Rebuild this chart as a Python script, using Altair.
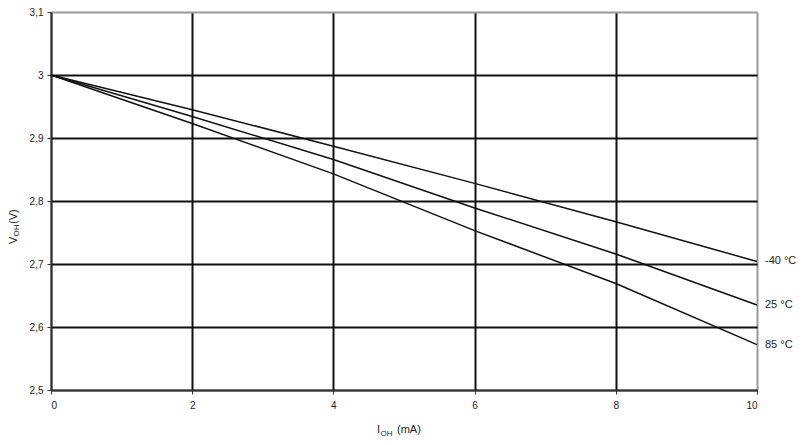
import altair as alt
import pandas as pd

# Data
i_oh = [0, 2, 4, 6, 8, 10]
v_m40 = [3.0, 2.945, 2.887, 2.828, 2.767, 2.704]
v_25 = [3.0, 2.934, 2.866, 2.789, 2.716, 2.635]
v_85 = [3.0, 2.923, 2.843, 2.753, 2.669, 2.572]
series_names = ["-40 °C", "25 °C", "85 °C"]
series_vals = [v_m40, v_25, v_85]

x_ticks = [0, 2, 4, 6, 8, 10]
y_ticks = [2.5, 2.6, 2.7, 2.8, 2.9, 3.0, 3.1]

rows = []
for name, vals in zip(series_names, series_vals):
    for x, y in zip(i_oh, vals):
        rows.append({"I": x, "V": y, "s": name})
df = pd.DataFrame(rows)
ends = df[df["I"] == 10]

FONT = "Liberation Sans"
W, H = 706, 378

xscale = alt.Scale(domain=[0, 10], nice=False)
yscale = alt.Scale(domain=[2.5, 3.1], nice=False, zero=False)

xaxis = alt.Axis(
    values=x_ticks, title=None, format="d", labelFont=FONT, labelFontSize=10, labelColor="#222",
    labelPadding=6, tickSize=4, tickColor="#333", domainColor="#333", domainWidth=1.5,
    grid=True, gridWidth=2,
    gridColor={"condition": {"test": "datum.value == 10", "value": "#999"}, "value": "#111"},
)
yaxis = alt.Axis(
    values=y_ticks, title=None, labelFont=FONT, labelFontSize=10, labelColor="#222",
    labelPadding=4, tickSize=4, tickColor="#333", domainColor="#333", domainWidth=1.5,
    labelExpr="replace(format(datum.value, '.1~f'), '.', ',')",
    grid=True, gridWidth=2,
    gridColor={"condition": {"test": "datum.value > 3.05", "value": "#999"}, "value": "#111"},
)

lines = alt.Chart(df).mark_line(color="#111", strokeWidth=1.5).encode(
    x=alt.X("I:Q", scale=xscale, axis=xaxis),
    y=alt.Y("V:Q", scale=yscale, axis=yaxis),
    detail="s:N",
)

labels = alt.Chart(ends).mark_text(
    align="left", baseline="middle", dx=8, font=FONT, fontSize=11, color="#222"
).encode(
    x=alt.X("I:Q", scale=xscale),
    y=alt.Y("V:Q", scale=yscale),
    text="s:N",
)

def txt(s, x, y, size, angle=0, baseline="alphabetic"):
    return alt.Chart(pd.DataFrame({"t": [s]})).mark_text(
        align="left", baseline=baseline, font=FONT, fontSize=size, color="#222", angle=angle
    ).encode(x=alt.value(x), y=alt.value(y), text="t:N")

# axis titles with subscripts
x_title = [
    txt("I", 326, 421, 11),
    txt("OH", 329.5, 423.5, 8),
    txt("(mA)", 346, 421, 11),
]
y_title = [
    txt("V", -37, 232, 11, angle=270, baseline="middle"),
    txt("OH", -34, 224.5, 8, angle=270, baseline="middle"),
    txt("(V)", -37, 212, 11, angle=270, baseline="middle"),
]

chart = alt.layer(lines, labels, *x_title, *y_title).properties(
    width=W, height=H,
    autosize=alt.AutoSizeParams(type="none"),
    padding={"left": 43, "top": 4, "right": 41, "bottom": 47},
).configure_view(stroke="#999", strokeWidth=2).configure(background="white")

chart.save("out.html", embed_options={"renderer": "svg", "actions": False})
